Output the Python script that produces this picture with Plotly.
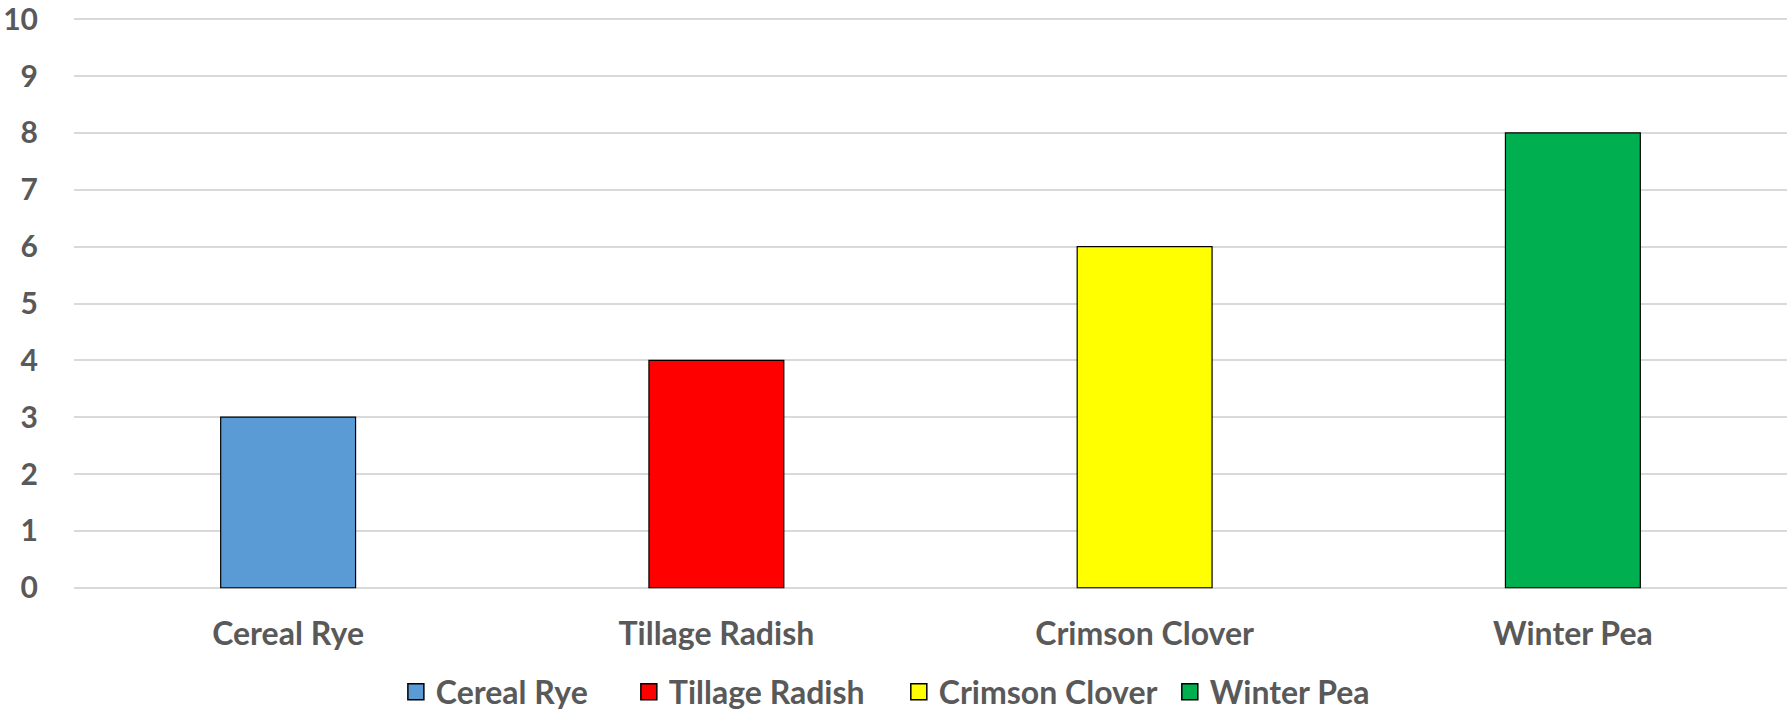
import plotly.graph_objects as go

categories = ["Cereal Rye", "Tillage Radish", "Crimson Clover", "Winter Pea"]
values = [3, 4, 6, 8]
colors = ["#5B9BD5", "#FF0000", "#FFFF00", "#00B050"]
y_ticks = list(range(0, 11))

FONT = "Lato"
TXT = "#595959"
FS = 32

# legend entry positions (paper x) for each of the four legend items
legend_x = [0.1879, 0.3239, 0.4815, 0.6397]
legend_ids = ["legend", "legend2", "legend3", "legend4"]

fig = go.Figure()
for cat, val, col in zip(categories, values, colors):
    fig.add_trace(go.Bar(
        x=[cat], y=[val], name=cat, showlegend=False,
        marker=dict(color=col, line=dict(color="#000000", width=1.2)),
    ))
# legend proxies (larger square swatches like the original)
for cat, col, lid in zip(categories, colors, legend_ids):
    fig.add_trace(go.Scatter(
        x=[cat], y=[None], name=cat, mode="markers", legend=lid,
        marker=dict(symbol="square", size=20, color=col,
                    line=dict(color="#000000", width=1.5)),
        hoverinfo="skip",
    ))

leg_common = dict(
    orientation="h", xanchor="left", y=-0.178, yanchor="middle",
    font=dict(family=FONT, size=FS, color=TXT, weight="bold"),
    itemsizing="trace", bgcolor="rgba(0,0,0,0)",
)

fig.update_layout(
    width=1791, height=712,
    margin=dict(l=74, r=4, t=16.5, b=121.7, autoexpand=False),
    paper_bgcolor="white", plot_bgcolor="white",
    barmode="relative", bargap=0.685,
    font=dict(family=FONT, size=FS, color=TXT),
    showlegend=True,
    legend=dict(x=legend_x[0], **leg_common),
    legend2=dict(x=legend_x[1], **leg_common),
    legend3=dict(x=legend_x[2], **leg_common),
    legend4=dict(x=legend_x[3], **leg_common),
    xaxis=dict(
        categoryorder="array", categoryarray=categories,
        showgrid=False, showline=False, zeroline=False,
        tickfont=dict(family=FONT, size=FS, color=TXT, weight="bold"),
        ticks="", ticklabelstandoff=22,
    ),
    yaxis=dict(
        range=[-0.04, 10.04], tickvals=y_ticks,
        showgrid=True, gridcolor="#D9D9D9", gridwidth=1.5,
        zeroline=False,
        showline=False, ticks="",
        tickfont=dict(family=FONT, size=30, color=TXT, weight="bold"),
        ticklabelstandoff=35, ticklabeloverflow="allow",
    ),
)

fig.write_html("out.html")
